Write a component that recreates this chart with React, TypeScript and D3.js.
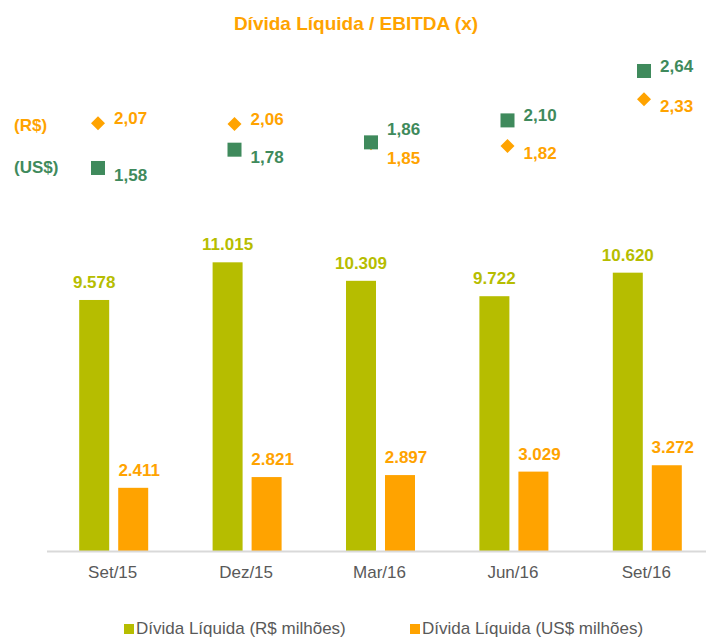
import * as d3 from "d3";

const categories = ["Set/15", "Dez/15", "Mar/16", "Jun/16", "Set/16"];
const debtBRL = [9578, 11015, 10309, 9722, 10620];
const debtUSD = [2411, 2821, 2897, 3029, 3272];
const ratioBRL = [2.07, 2.06, 1.85, 1.82, 2.33];
const ratioUSD = [1.58, 1.78, 1.86, 2.1, 2.64];
const seriesKeys = ["brl", "usd"];
const legendLabels = ["Dívida Líquida (R$ milhões)", "Dívida Líquida (US$ milhões)"];

const W = 706;
const H = 639;
const OLIVE = "#b6bd00";
const ORANGE = "#ffa300";
const GREEN = "#3f8a5c";
const GREY = "#595959";
const FONT = "'Liberation Sans', Arial, sans-serif";

const fmtInt = (v: number) => d3.format(",")(v).replace(/,/g, ".");
const fmtRatio = (v: number) => v.toFixed(2).replace(".", ",");

export default function App() {
  const x0 = d3.scaleBand<string>().domain(categories).range([47, 714]);
  const x1 = d3.scaleBand<string>().domain(seriesKeys).range([0, 69]).paddingInner(0.231);
  const groupLeft = (c: string) => (x0(c) as number) + (x0.bandwidth() - 69) / 2;
  const y = d3.scaleLinear().domain([0, 12000]).range([551, 236.5]);

  const xr = d3.scalePoint<string>().domain(categories).range([98, 644]);
  const yr = d3.scaleLinear().domain([1.5, 2.7]).range([175.3, 65.5]);

  const bw = x1.bandwidth();
  const diamond = d3.symbol().type(d3.symbolDiamond2).size(125)();

  // label placement: higher marker keeps its label level, lower one drops below
  const labelDy = (own: number, other: number) => {
    const close = Math.abs(yr(own) - yr(other)) < 10;
    if (own >= other) return close ? -7 : 1;
    return close ? 21 : 13;
  };

  return (
    <svg width={W} height={H} style={{ position: "absolute", left: 0, top: 0, fontFamily: FONT }}>
      <rect width={W} height={H} fill="#fff" />
      <text x={356} y={30} textAnchor="middle" fontSize={19} fontWeight="bold" fill={ORANGE}>
        Dívida Líquida / EBITDA (x)
      </text>

      <text x={14} y={131} fontSize={17} fontWeight="bold" fill={ORANGE}>(R$)</text>
      <text x={14} y={173} fontSize={17} fontWeight="bold" fill={GREEN}>(US$)</text>

      {/* bars */}
      {categories.map((c, i) => {
        const gx = groupLeft(c);
        const xb = gx + (x1("brl") as number);
        const xu = gx + (x1("usd") as number);
        return (
          <g key={c}>
            <rect x={xb} y={y(debtBRL[i])} width={bw} height={y(0) - y(debtBRL[i])} fill={OLIVE} />
            <rect x={xu} y={y(debtUSD[i])} width={bw} height={y(0) - y(debtUSD[i])} fill={ORANGE} />
            <text x={xb + bw / 2} y={y(debtBRL[i]) - 12} textAnchor="middle" fontSize={17} fontWeight="bold" fill={OLIVE}>
              {fmtInt(debtBRL[i])}
            </text>
            <text x={xu + bw / 2 + 6} y={y(debtUSD[i]) - 12} textAnchor="middle" fontSize={17} fontWeight="bold" fill={ORANGE}>
              {fmtInt(debtUSD[i])}
            </text>
            <text x={(x0(c) as number) + x0.bandwidth() / 2 - 1} y={578} textAnchor="middle" fontSize={17} fill={GREY}>
              {c}
            </text>
          </g>
        );
      })}
      <line x1={47} x2={W} y1={y(0) + 0.5} y2={y(0) + 0.5} stroke="#d9d9d9" strokeWidth={2} />

      {/* ratio markers */}
      {categories.map((c, i) => {
        const px = xr(c) as number;
        return (
          <g key={"r" + c}>
            <path d={diamond as string} transform={`translate(${px},${yr(ratioBRL[i])})`} fill={ORANGE} />
            <rect x={px - 7} y={yr(ratioUSD[i]) - 7} width={14} height={14} fill={GREEN} />
            <text x={px + 16} y={yr(ratioBRL[i]) + labelDy(ratioBRL[i], ratioUSD[i])} fontSize={17} fontWeight="bold" fill={ORANGE}>
              {fmtRatio(ratioBRL[i])}
            </text>
            <text x={px + 16} y={yr(ratioUSD[i]) + labelDy(ratioUSD[i], ratioBRL[i])} fontSize={17} fontWeight="bold" fill={GREEN}>
              {fmtRatio(ratioUSD[i])}
            </text>
          </g>
        );
      })}

      {/* legend */}
      {legendLabels.map((l, i) => {
        const lx = i === 0 ? 124 : 410;
        return (
          <g key={l}>
            <rect x={lx} y={624} width={10} height={10} fill={i === 0 ? OLIVE : ORANGE} />
            <text x={lx + 12} y={634} fontSize={17} fill={GREY}>{l}</text>
          </g>
        );
      })}
    </svg>
  );
}
